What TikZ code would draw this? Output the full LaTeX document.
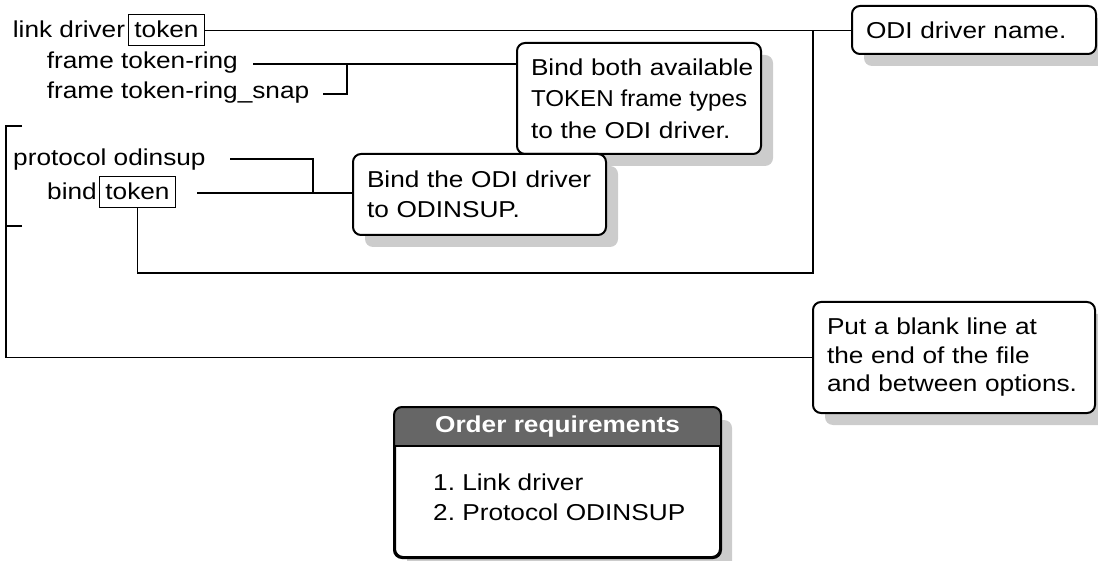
\documentclass[tikz,border=0pt]{standalone}
\usepackage{fontspec}
\setmainfont{Liberation Sans}[FakeStretch=1.14]
\usepackage{graphicx}
\usetikzlibrary{shadows}
\definecolor{shadowgray}{HTML}{CCCCCC}
\definecolor{headgray}{HTML}{666666}

\begin{document}
\frenchspacing
\begin{tikzpicture}[x=1pt,y=-1pt,
  font=\fontsize{23pt}{29pt}\selectfont,
  code/.style={anchor=base west, inner sep=0pt},
  tokenbox/.style={draw, line width=1pt, anchor=base west, inner xsep=0pt,
    inner ysep=2pt, text height=21pt, text depth=6pt, minimum width=76pt},
  wire/.style={line width=1.2pt},
  callout/.style={draw, line width=2pt, rounded corners=8pt, fill=white,
    inner xsep=14pt, inner ysep=0pt, align=left,
    drop shadow={shadow xshift=12pt, shadow yshift=-12pt, fill=shadowgray, opacity=1}},
]
\useasboundingbox (0,0) rectangle (1098,561);

% configuration lines
\node[code] (link) at (12.7,38) {link driver};
\node[tokenbox] (token1) at (128,38) {token};
\node[code] (ring) at (46.7,69) {frame token-ring};
\node[code] (snap) at (46.7,99) {frame token-ring\_snap};
\node[code] (proto) at (13,166) {protocol odinsup};
\node[code] (bind) at (47,200) {bind};
\node[tokenbox] (token2) at (99,200) {token};

% callouts
\node[callout, text width=216pt, minimum height=48pt] (odi) at (974,30) {ODI driver name.};
\node[callout, text width=216pt, minimum height=111pt,
      font=\fontsize{23pt}{31.5pt}\selectfont] (bindboth) at (639,98.5)
  {\mbox{Bind both available}\\\mbox{\scalebox{0.92}[1]{TOKEN frame types}}\\\mbox{to the ODI driver.}};
\node[callout, text width=225pt, minimum height=81pt,
      font=\fontsize{23pt}{30pt}\selectfont] (bindodi) at (479.5,194.5)
  {\mbox{Bind the ODI driver}\\\mbox{to ODINSUP.}};
\node[callout, text width=254pt, minimum height=111pt,
      font=\fontsize{23pt}{28.5pt}\selectfont] (blank) at (954,357.5)
  {\mbox{Put a blank line at}\\\mbox{the end of the file}\\\mbox{and between options.}};

% connectors
\coordinate (j1) at (813,30.5);
\coordinate (j2) at (813,273);
\draw[wire] (token1.east) -- (token1.east -| odi.west);
\draw[wire] (j1) -- (j2) -| (token2.south);

\coordinate (r1) at (253,64);
\coordinate (r2) at (323,94);
\coordinate (rj) at (347,64);
\draw[wire] (r1) -- (r1 -| bindboth.west);
\draw[wire] (r2) -| (rj);

\coordinate (p1) at (230,159);
\coordinate (p2) at (197,193);
\coordinate (pj) at (313,193);
\draw[wire] (p1) -| (pj);
\draw[wire] (p2) -- (p2 -| bindodi.west);

\coordinate (b1) at (22,126);
\coordinate (b2) at (22,226);
\coordinate (b0) at (6,357.5);
\draw[wire] (b1) -| (b0) -- (b0 -| blank.west);
\draw[wire] (b2) -- (b2 -| b0);

% order requirements panel
\node[callout, minimum width=325pt, minimum height=149pt] (order) at (557.5,482.5) {};
\begin{scope}
  \clip (order.north west) rectangle ([yshift=-39pt]order.north east);
  \fill[headgray, rounded corners=8pt] (order.north west) rectangle (order.south east);
\end{scope}
\draw[line width=2pt, rounded corners=8pt] (order.north west) rectangle (order.south east);
\draw[line width=2pt] ([yshift=-39pt]order.north west) -- ([yshift=-39pt]order.north east);
\node[text=white, font=\fontsize{23pt}{29pt}\selectfont\bfseries] (ohead)
  at ([yshift=-19.5pt]order.north) {Order requirements};
\node[code] (item1) at (433,490) {1. Link driver};
\node[code] (item2) at (433,520) {2. Protocol ODINSUP};
\end{tikzpicture}
\end{document}
